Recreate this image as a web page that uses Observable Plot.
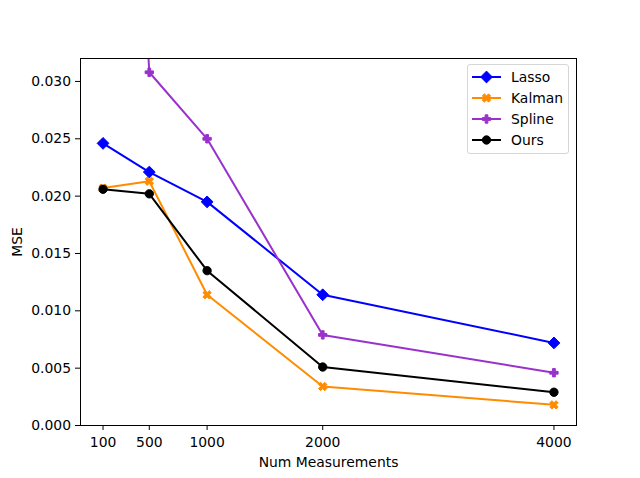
<!DOCTYPE html>
<html>
<head>
<meta charset="utf-8">
<script src="https://cdn.jsdelivr.net/npm/d3@7"></script>
<script src="https://cdn.jsdelivr.net/npm/@observablehq/plot@0.6"></script>
<style>
  html, body { margin: 0; padding: 0; background: #fff; }
  #wrap { position: relative; width: 640px; height: 478px; font-family: "DejaVu Sans", sans-serif; }
  #legend { position: absolute; left: 467px; top: 64px; width: 100px; height: 86px;
    border: 1px solid #d6d6d6; border-radius: 3px; background: rgba(255,255,255,0.8);
    box-sizing: content-box; padding-top: 2px; }
  .row { display: flex; align-items: center; height: 20.9px; font-size: 13.9px; color: #000; }
  .row svg { margin-left: 4px; margin-right: 10px; }
</style>
</head>
<body>
<div id="wrap"><div id="legend"></div></div>
<script>
const xValues = [100, 500, 1000, 2000, 4000];
const lasso  = [0.0246, 0.0221, 0.0195, 0.0114, 0.0072];
const kalman = [0.0207, 0.0213, 0.0114, 0.0034, 0.0018];
const spline = [0.105, 0.0308, 0.0250, 0.0079, 0.0046];
const ours   = [0.0206, 0.0202, 0.0135, 0.0051, 0.0029];
const seriesNames  = ["Lasso", "Kalman", "Spline", "Ours"];
const seriesColors = ["#0000ff", "#ff8c00", "#9932cc", "#000000"];
const xTicks = [100, 500, 1000, 2000, 4000];
const yTicks = [0, 0.005, 0.010, 0.015, 0.020, 0.025, 0.030];

// filled "X" marker (like matplotlib 'X')
const symbolXFilled = {
  draw(ctx, size) {
    const m = Math.sqrt(size / Math.PI) * 2 / 4;
    const pts = [[-1,-2],[0,-1],[1,-2],[2,-1],[1,0],[2,1],[1,2],[0,1],[-1,2],[-2,1],[-1,0],[-2,-1]];
    pts.forEach(([a, b], i) => i ? ctx.lineTo(a * m, b * m) : ctx.moveTo(a * m, b * m));
    ctx.closePath();
  }
};
const seriesSymbols = ["diamond2", symbolXFilled, "cross", "circle"];
const seriesR = [5.3, 4.17, 3.5, 4.17];
const seriesValues = [lasso, kalman, spline, ours];

const marks = [];
seriesNames.forEach((name, i) => {
  const rows = xValues.map((x, j) => ({x, y: seriesValues[i][j], series: name}));
  marks.push(Plot.line(rows, {x: "x", y: "y", stroke: seriesColors[i], strokeWidth: 2, clip: true}));
  marks.push(Plot.dot(rows, {x: "x", y: "y", symbol: seriesSymbols[i], r: seriesR[i],
    fill: seriesColors[i], stroke: seriesColors[i], strokeWidth: 1, clip: true}));
});

const chart = Plot.plot({
  width: 640,
  height: 478,
  marginLeft: 80,
  marginRight: 64,
  marginTop: 58,
  marginBottom: 53,
  style: {fontFamily: "DejaVu Sans, sans-serif", fontSize: "13.9px", background: "#fff", color: "#000", overflow: "visible"},
  x: {domain: [-95, 4195]},
  y: {domain: [0, 0.032]},
  marks: [
    Plot.axisX({ticks: xTicks, tickFormat: d => String(d), tickSize: 5, tickPadding: 6.5,
      label: "Num Measurements", labelAnchor: "center", labelArrow: "none", labelOffset: 41}),
    Plot.axisY({ticks: yTicks, tickFormat: d3.format(".3f"), tickSize: 5, tickPadding: 4.5,
      label: "MSE", labelAnchor: "center", labelArrow: "none", labelOffset: 68}),
    ...marks,
    Plot.frame({stroke: "#000", strokeWidth: 1})
  ]
});
document.getElementById("wrap").prepend(chart);
chart.style.position = "absolute";
chart.style.left = "0";
chart.style.top = "0";

// legend
const legend = d3.select("#legend");
seriesNames.forEach((name, i) => {
  const row = legend.append("div").attr("class", "row");
  const svg = row.append("svg").attr("width", 29).attr("height", 16);
  svg.append("line").attr("x1", 0).attr("x2", 29).attr("y1", 8).attr("y2", 8)
    .attr("stroke", seriesColors[i]).attr("stroke-width", 2);
  const sym = typeof seriesSymbols[i] === "string"
    ? {diamond2: d3.symbolDiamond2, cross: d3.symbolCross, circle: d3.symbolCircle}[seriesSymbols[i]]
    : seriesSymbols[i];
  svg.append("path").attr("transform", "translate(14.5,8)")
    .attr("d", d3.symbol(sym, Math.PI * seriesR[i] * seriesR[i])())
    .attr("fill", seriesColors[i]).attr("stroke", seriesColors[i]).attr("stroke-width", 1);
  row.append("span").text(name);
});
</script>
</body>
</html>
